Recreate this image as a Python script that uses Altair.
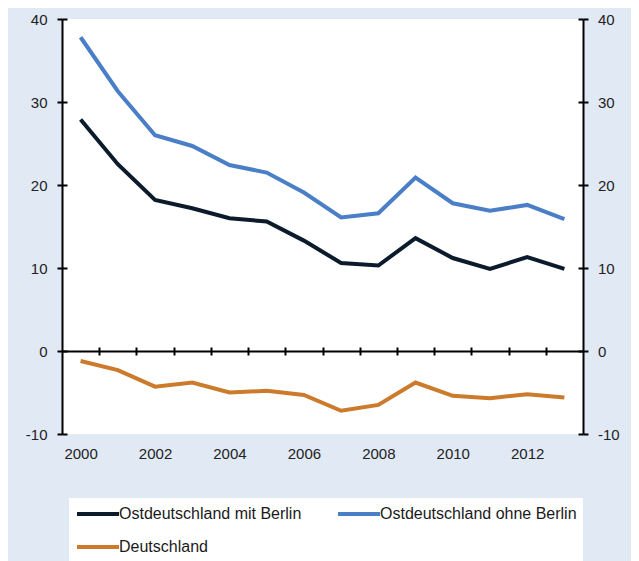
import altair as alt
import pandas as pd

years = list(range(2000, 2014))
ost_mit_berlin = [27.9, 22.5, 18.2, 17.2, 16.0, 15.6, 13.3, 10.6, 10.3, 13.6, 11.2, 9.9, 11.3, 9.9]
ost_ohne_berlin = [37.8, 31.3, 26.0, 24.7, 22.4, 21.5, 19.1, 16.1, 16.6, 20.9, 17.8, 16.9, 17.6, 15.9]
deutschland = [-1.2, -2.3, -4.3, -3.8, -5.0, -4.8, -5.3, -7.2, -6.5, -3.8, -5.4, -5.7, -5.2, -5.6]

series_names = ["Ostdeutschland mit Berlin", "Ostdeutschland ohne Berlin", "Deutschland"]
series_colors = ["#0c1b2c", "#4a7ec6", "#cc7a2c"]
x_label_values = [2000, 2002, 2004, 2006, 2008, 2010, 2012]
x_tick_values = [y + 0.5 for y in years[:-1]]
y_values = [-10, 0, 10, 20, 30, 40]

rows = []
for name, vals in zip(series_names, [ost_mit_berlin, ost_ohne_berlin, deutschland]):
    for yr, v in zip(years, vals):
        rows.append({"Jahr": yr, "Wert": v, "Reihe": name})
df = pd.DataFrame(rows)

FONT = "Liberation Sans"
xscale = alt.Scale(domain=[1999.5, 2013.5], nice=False, zero=False)
yscale = alt.Scale(domain=[-10, 40], nice=False, zero=False)

base = alt.Chart(df)

# main lines + bottom labels + left labelled axis
lines = base.mark_line(strokeWidth=4).encode(
    x=alt.X("Jahr:Q", scale=xscale, title=None,
            axis=alt.Axis(orient="bottom", values=x_label_values, ticks=False, domain=False,
                          grid=False, labelPadding=12, labelExpr="'' + datum.value",
                          labelFont=FONT, labelFontSize=15, labelColor="#222222")),
    y=alt.Y("Wert:Q", scale=yscale, title=None,
            axis=alt.Axis(orient="left", values=y_values, grid=False, tickSize=5, tickWidth=2,
                          tickColor="black", domainColor="black", domainWidth=2,
                          labelPadding=10, labelExpr="'' + datum.value",
                          labelFont=FONT, labelFontSize=15, labelColor="#222222")),
    color=alt.Color("Reihe:N", sort=series_names,
                    scale=alt.Scale(domain=series_names, range=series_colors),
                    legend=alt.Legend(title=None, orient="none", legendX=7, legendY=479,
                                      direction="horizontal",
                                      columns=2, fillColor="white", padding=6,
                                      symbolType="M-1,0H4.25", symbolSize=256,
                                      symbolStrokeWidth=4, labelOffset=24,
                                      rowPadding=15, columnPadding=28,
                                      labelFont=FONT, labelFontSize=16,
                                      labelColor="#1a1a1a", labelLimit=400)),
)

# zero line with crossing ticks (down part) + left inner ticks
layer2 = base.mark_line(opacity=0).encode(
    x=alt.X("Jahr:Q", scale=xscale, title=None,
            axis=alt.Axis(orient="bottom", values=x_tick_values, offset=-83, labels=False,
                          grid=False, tickSize=4, tickWidth=2, tickColor="black",
                          domainColor="black", domainWidth=2)),
    y=alt.Y("Wert:Q", scale=yscale, title=None,
            axis=alt.Axis(orient="left", values=y_values, offset=-5, labels=False,
                          domain=False, grid=False, tickSize=5, tickWidth=2, tickColor="black")),
    detail="Reihe:N",
)

# crossing ticks (up part) + right labelled axis
layer3 = base.mark_line(opacity=0).encode(
    x=alt.X("Jahr:Q", scale=xscale, title=None,
            axis=alt.Axis(orient="top", values=x_tick_values, offset=-332, labels=False,
                          domain=False, grid=False, tickSize=4, tickWidth=2, tickColor="black")),
    y=alt.Y("Wert:Q", scale=yscale, title=None,
            axis=alt.Axis(orient="right", values=y_values, grid=False, tickSize=5, tickWidth=2,
                          tickColor="black", domainColor="black", domainWidth=2,
                          labelPadding=9.5, labelExpr="'' + datum.value",
                          labelFont=FONT, labelFontSize=15, labelColor="#222222")),
    detail="Reihe:N",
)

# right inner ticks
layer4 = base.mark_line(opacity=0).encode(
    x=alt.X("Jahr:Q", scale=xscale, axis=None),
    y=alt.Y("Wert:Q", scale=yscale, title=None,
            axis=alt.Axis(orient="right", values=y_values, offset=-5, labels=False,
                          domain=False, grid=False, tickSize=5, tickWidth=2, tickColor="black")),
    detail="Reihe:N",
)

chart = alt.layer(lines, layer2, layer3, layer4).resolve_axis(
    x="independent", y="independent"
).properties(
    width=521,
    height=415,
    autosize=alt.AutoSizeParams(type="none"),
    padding={"left": 54, "top": 11, "right": 48, "bottom": 127},
    background="#e1e9f5",
).configure_view(fill="white", strokeWidth=0)

chart.save("out.html", embed_options={"renderer": "svg", "actions": False})
